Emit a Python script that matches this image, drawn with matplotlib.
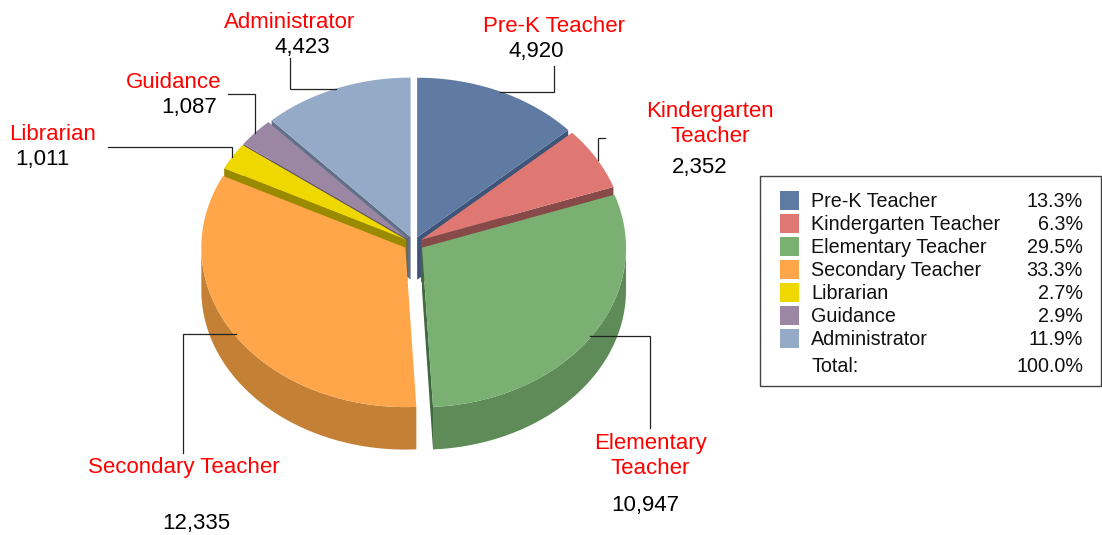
import numpy as np
import matplotlib
matplotlib.use('Agg')
import matplotlib.pyplot as plt
from matplotlib.patches import Polygon, Rectangle

plt.rcParams['font.family'] = ['Liberation Sans', 'DejaVu Sans']

# Chart data
categories = ['Pre-K Teacher', 'Kindergarten Teacher', 'Elementary Teacher',
              'Secondary Teacher', 'Librarian', 'Guidance', 'Administrator']
counts = [4920, 2352, 10947, 12335, 1011, 1087, 4423]

# Slice colours: top, outer wall, cut face
top_colors = ['#5F7AA3', '#DF7872', '#7BB073', '#FFA64A', '#EFD800', '#9B87A3', '#94AAC7']
wall_colors = ['#465A79', '#A55955', '#5E8B58', '#C48136', '#B2A000', '#73647A', '#6E7E94']
face_colors = ['#3E5478', '#884A48', '#42693F', '#A06A2C', '#998A00', '#64556A', '#607088']

# Pie geometry in pixels
CX, CY = 413.7, 243.3
RX, RY = 204.0, 159.5
DEPTH = 42.5
explode = [8.5, 8.5, 10.0, 10.0, 8.5, 8.5, 8.5]
draw_order = [6, 0, 5, 4, 1, 2, 3]

LABEL_SIZE = 16
LEGEND_SIZE = 14.25


def edge_point(center, theta):
    # theta in degrees, clockwise from the top of the pie
    t = np.radians(theta)
    return center[0] + RX * np.sin(t), center[1] - RY * np.cos(t)


def draw_slice(ax, start, end, offset, top, wall, face):
    mid = np.radians((start + end) / 2)
    center = (CX + offset * np.sin(mid), CY - offset * (RY / RX) * np.cos(mid))

    # cut faces that look towards the viewer
    for theta, visible in ((start, np.sin(np.radians(start)) < 0),
                           (end, np.sin(np.radians(end)) > 0)):
        if visible:
            px, py = edge_point(center, theta)
            pts = [center, (px, py), (px, py + DEPTH), (center[0], center[1] + DEPTH)]
            ax.add_patch(Polygon(pts, closed=True, fc=face, ec='none', zorder=2))

    # outer wall, only the front part of the rim
    lo, hi = max(start, 90), min(end, 270)
    if hi > lo:
        thetas = np.linspace(lo, hi, 80)
        upper = [edge_point(center, th) for th in thetas]
        lower = [(x, y + DEPTH) for x, y in upper][::-1]
        ax.add_patch(Polygon(upper + lower, closed=True, fc=wall, ec='none', zorder=2))

    # top of the slice
    thetas = np.linspace(start, end, 120)
    arc = [edge_point(center, th) for th in thetas]
    ax.add_patch(Polygon([center] + arc, closed=True, fc=top, ec='none', zorder=2))


fig = plt.figure(figsize=(11.02, 5.35), dpi=100)
ax = fig.add_axes([0, 0, 1, 1])
ax.set_xlim(0, 1102)
ax.set_ylim(535, 0)
ax.axis('off')

total = sum(counts)
angles = np.concatenate(([0], np.cumsum(counts) / total * 360))

for i in draw_order:
    draw_slice(ax, angles[i], angles[i + 1], explode[i],
               top_colors[i], wall_colors[i], face_colors[i])

# Leader lines
leaders = [
    [(554, 66), (554, 92), (500, 92)],
    [(605, 138), (597.5, 138), (597.5, 160)],
    [(590, 336), (650, 336), (650, 428)],
    [(236, 334), (183, 334), (183, 453)],
    [(108, 147), (232, 147), (232, 157)],
    [(228, 94), (254.5, 94), (254.5, 133)],
    [(289.5, 58), (289.5, 89), (336, 89)],
]
for line in leaders:
    xs, ys = zip(*line)
    ax.plot(xs, ys, color='#222222', lw=0.9, solid_joinstyle='miter', zorder=3)

# Slice labels
red_labels = [
    ('Pre-K Teacher', 554, 27),
    ('Kindergarten', 710, 111),
    ('Teacher', 710, 136),
    ('Elementary', 650, 443),
    ('Teacher', 650, 468),
    ('Secondary Teacher', 184, 467),
    ('Librarian', 53, 135),
    ('Guidance', 174, 83),
    ('Administrator', 290, 23),
]
count_positions = [(536, 52), (700, 167), (645, 506), (196, 524),
                   (42, 160), (189, 108), (302, 48)]

for text, x, y in red_labels:
    ax.text(x, y, text, color='#FF0000', fontsize=LABEL_SIZE, ha='center', va='center')
for value, (x, y) in zip(counts, count_positions):
    ax.text(x, y, f'{value:,}', color='black', fontsize=LABEL_SIZE, ha='center', va='center')

# Legend table
ax.add_patch(Rectangle((760, 175.7), 341, 209.8, fc='white', ec='#444444', lw=1.0, zorder=1))
row_y = 200.5
for i, name in enumerate(categories):
    ax.add_patch(Rectangle((780, row_y - 9.5), 19, 19, fc=top_colors[i], ec='none', zorder=2))
    ax.text(811, row_y + 0.8, name, fontsize=LEGEND_SIZE, ha='left', va='center', color='#111111')
    ax.text(1083, row_y + 0.8, f'{counts[i] / total * 100:.1f}%', fontsize=LEGEND_SIZE,
            ha='right', va='center', color='#111111')
    row_y += 23
ax.text(811, 367, 'Total:', fontsize=LEGEND_SIZE, ha='left', va='center', color='#111111')
ax.text(1083, 367, f'{sum(counts) / total * 100:.1f}%', fontsize=LEGEND_SIZE,
        ha='right', va='center', color='#111111')

fig.savefig('out.png', dpi=100)
